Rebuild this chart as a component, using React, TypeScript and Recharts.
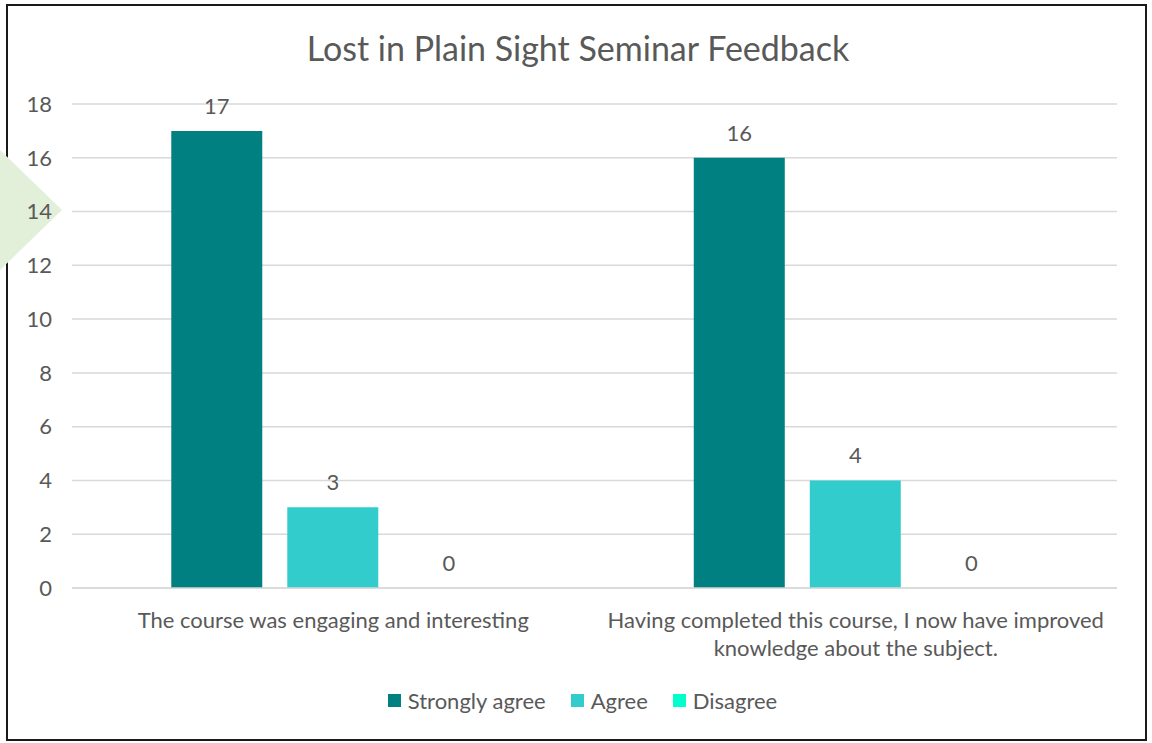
import { Bar, BarChart, CartesianGrid, LabelList, Legend, Rectangle, XAxis, YAxis } from "recharts";

const categories = [
  "The course was engaging and interesting",
  "Having completed this course, I now have improved knowledge about the subject.",
];
const stronglyAgree = [17, 16];
const agree = [3, 4];
const disagree = [0, 0];
const yTicks = [0, 2, 4, 6, 8, 10, 12, 14, 16, 18];

const SERIES = [
  { key: "Strongly agree", values: stronglyAgree, color: "#008080" },
  { key: "Agree", values: agree, color: "#33CCCC" },
  { key: "Disagree", values: disagree, color: "#00FFCC" },
];

const data = categories.map((name, i) => {
  const row: Record<string, string | number> = { name };
  SERIES.forEach((s) => (row[s.key] = s.values[i]));
  return row;
});

const FONT = "Lato, 'Open Sans', sans-serif";
const TEXT = "#595959";
const FS = 22;

function wrap(label: string, maxChars: number) {
  const lines: string[] = [];
  let cur = "";
  label.split(" ").forEach((w) => {
    if (cur && (cur + " " + w).length > maxChars) {
      lines.push(cur);
      cur = w;
    } else {
      cur = cur ? cur + " " + w : w;
    }
  });
  if (cur) lines.push(cur);
  return lines;
}

function CategoryTick({ x, y, payload }: any) {
  const lines = wrap(String(payload.value), 50);
  return (
    <text x={x} y={y + 32} textAnchor="middle" fill={TEXT} fontSize={FS} fontFamily={FONT}>
      {lines.map((l, i) => (
        <tspan key={i} x={x} dy={i === 0 ? 0 : 28}>
          {l}
        </tspan>
      ))}
    </text>
  );
}

// zero-value bars get a tiny min size so their labels still render; draw nothing for them
function BarShape(props: any) {
  if (!props.value || (Array.isArray(props.value) && props.value[1] - props.value[0] === 0)) return <g />;
  return <Rectangle {...props} />;
}

function ValueLabel({ x, y, width, height, value }: any) {
  const top = Math.min(y, y + height);
  return (
    <text x={x + width / 2} y={top - 17} textAnchor="middle" fill={TEXT} fontSize={FS} fontFamily={FONT}>
      {value}
    </text>
  );
}

function LegendContent({ payload }: any) {
  const items = [...(payload ?? [])].sort(
    (a: any, b: any) => SERIES.findIndex((s) => s.key === a.value) - SERIES.findIndex((s) => s.key === b.value)
  );
  return (
    <div
      style={{
        display: "flex",
        justifyContent: "center",
        gap: 25,
        paddingLeft: 48,
        fontFamily: FONT,
        fontSize: FS,
        color: TEXT,
      }}
    >
      {items.map((p: any) => (
        <div key={p.value} style={{ display: "flex", alignItems: "center" }}>
          <span style={{ width: 13, height: 13, background: p.color, marginRight: 7, display: "inline-block" }} />
          {p.value}
        </div>
      ))}
    </div>
  );
}

export default function App() {
  return (
    <div style={{ position: "absolute", left: 0, top: 0, width: 1152, height: 743, background: "#fff", overflow: "hidden" }}>
      <div
        style={{
          position: "absolute",
          left: 6,
          top: 4,
          width: 1137,
          height: 733,
          border: "2px solid #1a1a1a",
        }}
      />
      <svg style={{ position: "absolute", left: 0, top: 0 }} width={70} height={300}>
        <polygon points="0,150 62,210 0,270" fill="#E2EFD9" />
      </svg>
      <div
        style={{
          position: "absolute",
          left: 0,
          top: 27,
          width: 1156,
          textAlign: "center",
          fontFamily: FONT,
          fontSize: 34,
          lineHeight: "42px",
          color: TEXT,
        }}
      >
        Lost in Plain Sight Seminar Feedback
      </div>
      <div style={{ position: "absolute", left: 0, top: 0 }}>
        <BarChart
          width={1152}
          height={743}
          data={data}
          margin={{ top: 104, right: 35, left: 0, bottom: 20 }}
          barCategoryGap="19%"
          barGap={25}
        >
          <CartesianGrid vertical={false} stroke="#D9D9D9" strokeWidth={1.5} />
          <XAxis
            dataKey="name"
            axisLine={{ stroke: "#D9D9D9", strokeWidth: 1.5 }}
            tickLine={false}
            height={99}
            interval={0}
            tick={<CategoryTick />}
          />
          <YAxis
            width={72}
            domain={[0, 18]}
            ticks={yTicks}
            axisLine={false}
            tickLine={false}
            tick={{ fill: TEXT, fontSize: FS, fontFamily: FONT, dx: -12 }}
          />
          <Legend verticalAlign="bottom" height={36} content={<LegendContent />} />
          {SERIES.map((s) => (
            <Bar
              key={s.key}
              dataKey={s.key}
              fill={s.color}
              minPointSize={0.01}
              shape={<BarShape />}
              isAnimationActive={false}
            >
              <LabelList dataKey={s.key} content={<ValueLabel />} />
            </Bar>
          ))}
        </BarChart>
      </div>
    </div>
  );
}
